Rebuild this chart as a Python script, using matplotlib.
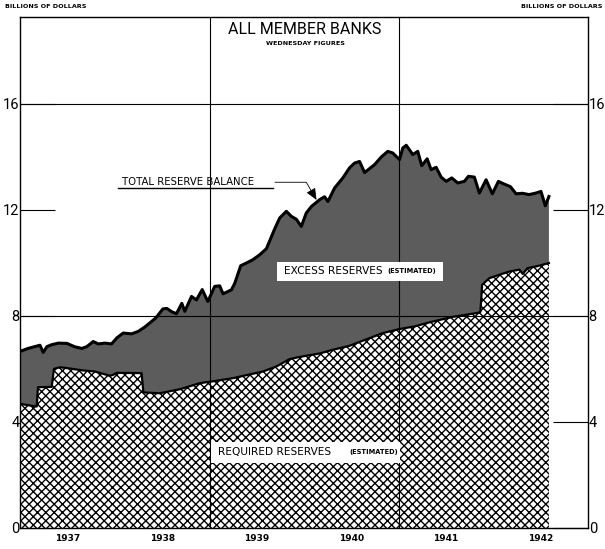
import matplotlib
matplotlib.use("Agg")
import matplotlib.pyplot as plt
from matplotlib.patches import Rectangle

# All member banks, Wednesday figures, billions of dollars (dates as decimal years)
total_dates = [
    1937.000, 1937.082, 1937.156, 1937.208, 1937.243, 1937.282, 1937.332, 1937.402,
    1937.493, 1937.578, 1937.652, 1937.704, 1937.771, 1937.824, 1937.894, 1937.965,
    1938.021, 1938.088, 1938.176, 1938.246, 1938.317, 1938.433, 1938.507, 1938.549,
    1938.602, 1938.651, 1938.707, 1938.739, 1938.810, 1938.862, 1938.923, 1938.982,
    1939.055, 1939.108, 1939.143, 1939.232, 1939.267, 1939.330, 1939.390, 1939.460,
    1939.530, 1939.601, 1939.689, 1939.742, 1939.812, 1939.865, 1939.918, 1939.970,
    1940.023, 1940.076, 1940.164, 1940.216, 1940.251, 1940.322, 1940.409, 1940.480,
    1940.533, 1940.586, 1940.639, 1940.691, 1940.744, 1940.818, 1940.884, 1940.937,
    1940.973, 1941.008, 1941.043, 1941.079, 1941.113, 1941.148, 1941.201, 1941.243,
    1941.300, 1941.342, 1941.395, 1941.448, 1941.501, 1941.560, 1941.623, 1941.694,
    1941.736, 1941.799, 1941.852, 1941.923, 1941.989, 1942.053, 1942.106, 1942.180,
    1942.240, 1942.309, 1942.377, 1942.451, 1942.503, 1942.549, 1942.587,
]
total_reserves = [
    6.66, 6.77, 6.84, 6.89, 6.62, 6.84, 6.91, 6.97,
    6.96, 6.83, 6.77, 6.84, 7.03, 6.94, 6.97, 6.94,
    7.17, 7.35, 7.32, 7.41, 7.58, 7.92, 8.26, 8.28,
    8.15, 8.08, 8.47, 8.17, 8.73, 8.60, 8.99, 8.54,
    9.11, 9.13, 8.83, 8.98, 9.23, 9.89, 9.99, 10.12,
    10.30, 10.53, 11.28, 11.69, 11.94, 11.75, 11.64, 11.37,
    11.88, 12.12, 12.38, 12.49, 12.31, 12.82, 13.20, 13.58,
    13.76, 13.82, 13.40, 13.55, 13.70, 14.00, 14.20, 14.14,
    14.01, 13.89, 14.33, 14.43, 14.26, 14.08, 14.20, 13.66,
    13.92, 13.51, 13.60, 13.23, 13.07, 13.20, 13.01, 13.07,
    13.26, 13.23, 12.63, 13.13, 12.60, 13.07, 12.98, 12.87,
    12.60, 12.62, 12.57, 12.63, 12.69, 12.15, 12.50,
]

required_dates = [
    1937.000, 1937.135, 1937.174, 1937.187, 1937.332, 1937.356, 1937.420, 1937.490,
    1937.662, 1937.789, 1937.947, 1937.979, 1938.018, 1938.282, 1938.301, 1938.475,
    1938.686, 1938.897, 1939.073, 1939.249, 1939.565, 1939.707, 1939.847, 1939.953,
    1940.164, 1940.304, 1940.480, 1940.656, 1940.832, 1941.008, 1941.166, 1941.343,
    1941.571, 1941.712, 1941.834, 1941.863, 1941.881, 1941.958, 1942.064, 1942.169,
    1942.275, 1942.310, 1942.362, 1942.451, 1942.587,
]
required_reserves = [
    4.68, 4.60, 4.58, 5.31, 5.32, 6.00, 6.06, 6.03,
    5.94, 5.90, 5.74, 5.77, 5.85, 5.84, 5.11, 5.08,
    5.23, 5.46, 5.55, 5.65, 5.90, 6.09, 6.37, 6.45,
    6.58, 6.72, 6.87, 7.11, 7.35, 7.50, 7.60, 7.77,
    7.96, 8.04, 8.11, 8.15, 9.17, 9.42, 9.55, 9.67,
    9.74, 9.58, 9.80, 9.86, 9.99,
]

year_labels = ["1937", "1938", "1939", "1940", "1941", "1942"]
year_starts = [1938, 1939, 1940, 1941, 1942]
value_ticks = [0, 4, 8, 12, 16]

plt.rcParams["hatch.linewidth"] = 1.0
plt.rcParams["hatch.color"] = "black"
NARROW = ["Roboto", "DejaVu Sans"]

fig = plt.figure(figsize=(6.05, 5.49), dpi=100)
ax = fig.add_axes([0.0335, 0.0383, 0.9384, 0.9299])
ax.set_xlim(1937, 1943)
ax.set_ylim(0, 19.25)

# excess reserves: dark screen from zero up to the total, required drawn over it
ax.fill_between(total_dates, 0, total_reserves, facecolor="#5c5c5c",
                linewidth=0, zorder=1)
ax.fill_between(required_dates, 0, required_reserves, facecolor="white",
                edgecolor="black", hatch="xxxx", linewidth=0, zorder=2)

for v in (8, 16):
    ax.axhline(v, color="black", lw=0.8, zorder=3)
for yr in (1939, 1941):
    ax.axvline(yr, color="black", lw=0.8, zorder=3)

ax.plot(required_dates, required_reserves, color="black", lw=1.6, zorder=4)
ax.plot(total_dates, total_reserves, color="black", lw=2.2, zorder=5)

# axes, ticks and labels
for s in ax.spines.values():
    s.set_linewidth(1.0)
ax.set_yticks(value_ticks)
ax.set_yticklabels([str(v) for v in value_ticks], family=NARROW, fontsize=10.5)
ax.tick_params(axis="y", direction="in", length=25, width=0.8, pad=0.5,
               left=True, right=True, labelleft=True, labelright=True)
ax.set_xticks(year_starts)
ax.set_xticklabels([])
ax.set_xticks([y + 0.5 for y in range(1937, 1943)], minor=True)
ax.set_xticklabels(year_labels, minor=True, fontsize=6.5, fontweight="bold")
ax.tick_params(axis="x", which="major", direction="in", length=26, width=0.8)
ax.tick_params(axis="x", which="minor", length=0, pad=4)

fig.text(5 / 605, 1 - 7 / 549, "BILLIONS OF DOLLARS", ha="left", va="center",
         fontsize=4.6, fontweight="bold")
fig.text(602 / 605, 1 - 7 / 549, "BILLIONS OF DOLLARS", ha="right", va="center",
         fontsize=4.6, fontweight="bold")
fig.text(305 / 605, 1 - 30 / 549, "ALL MEMBER BANKS", ha="center", va="center",
         family=NARROW, fontsize=11.5)
fig.text(305 / 605, 1 - 44 / 549, "WEDNESDAY FIGURES", ha="center", va="center",
         fontsize=4.6, fontweight="bold")

# boxed labels for the two areas
ax.add_patch(Rectangle((0.452, 0.4838), 0.2930, 0.0373, transform=ax.transAxes,
                       facecolor="white", edgecolor="none", zorder=6))
ax.text(0.4640, 0.5025, "EXCESS RESERVES", transform=ax.transAxes, ha="left",
        va="center", fontsize=7.6, zorder=7)
ax.text(0.6470, 0.5025, "(ESTIMATED)", transform=ax.transAxes, ha="left",
        va="center", fontsize=4.8, fontweight="bold", zorder=7)

ax.add_patch(Rectangle((0.3360, 0.1273), 0.3320, 0.0412, transform=ax.transAxes,
                       facecolor="white", edgecolor="none", zorder=6))
ax.text(0.3480, 0.1479, "REQUIRED RESERVES", transform=ax.transAxes, ha="left",
        va="center", fontsize=7.6, zorder=7)
ax.text(0.5790, 0.1479, "(ESTIMATED)", transform=ax.transAxes, ha="left",
        va="center", fontsize=4.8, fontweight="bold", zorder=7)

# pointer to the total reserve balance line
ax.text(0.1787, 0.6772, "TOTAL RESERVE BALANCE", transform=ax.transAxes,
        ha="left", va="center", fontsize=7.3, zorder=7)
ax.plot([0.1722, 0.4452], [0.6654, 0.6654], transform=ax.transAxes,
        color="black", lw=1.0, zorder=7)
ax.annotate("", xy=(0.5218, 0.6425), xycoords="axes fraction",
            xytext=(0.4487, 0.6772), textcoords="axes fraction",
            arrowprops=dict(arrowstyle="-|>,head_length=0.7,head_width=0.3",
                            connectionstyle="angle,angleA=0,angleB=-60,rad=0",
                            color="black", lw=0.6, shrinkA=0, shrinkB=0),
            zorder=7)

fig.savefig("out.png", dpi=100)
